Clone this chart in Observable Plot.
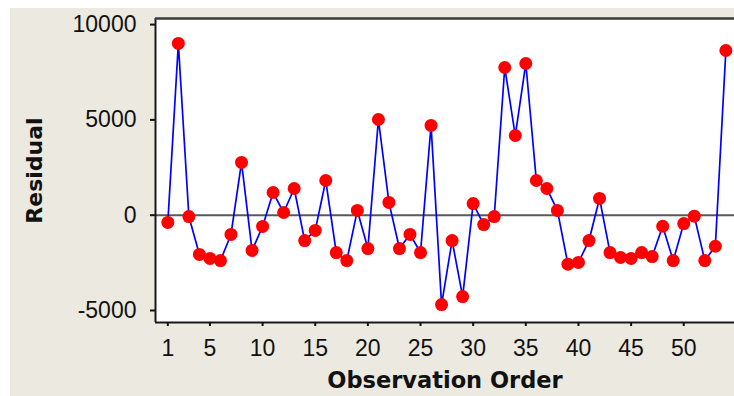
<!DOCTYPE html>
<html>
<head>
<meta charset="utf-8">
<script src="https://cdn.jsdelivr.net/npm/d3@7"></script>
<script src="https://cdn.jsdelivr.net/npm/@observablehq/plot@0.6"></script>
<style>
  html, body { margin: 0; padding: 0; background: #ffffff; }
  #wrap { position: absolute; left: 10px; top: 8px; width: 724px; height: 388px; background: #ECE9E0; overflow: hidden; }
  #wrap svg { display: block; background: transparent; }
</style>
</head>
<body>
<div id="wrap"></div>
<script>
// Observation order (1..54)
const observations = [1,2,3,4,5,6,7,8,9,10,11,12,13,14,15,16,17,18,19,20,21,22,23,24,25,26,27,28,29,30,31,32,33,34,35,36,37,38,39,40,41,42,43,44,45,46,47,48,49,50,51,52,53,54];
// Residuals
const residuals = [-380, 9010, -70, -2060, -2270, -2380, -1010, 2770, -1850, -590,
  1190, 140, 1400, -1330, -800, 1820, -1960, -2380, 250, -1750,
  5020, 670, -1750, -1010, -1960, 4710, -4690, -1330, -4270, 610,
  -490, -70, 7750, 4180, 7960, 1820, 1400, 250, -2570, -2480,
  -1330, 880, -1960, -2220, -2270, -1960, -2170, -580, -2380, -440,
  -50, -2380, -1630, 8640];
const xTicks = [1, 5, 10, 15, 20, 25, 30, 35, 40, 45, 50];
const yTicks = [-5000, 0, 5000, 10000];
const xDomain = [-0.17, 54.82];
const yDomain = [-5630, 10320];
const xLabel = "Observation Order";
const yLabel = "Residual";

const data = observations.map((o, i) => ({obs: o, res: residuals[i]}));

const chart = Plot.plot({
  width: 724,
  height: 388,
  marginLeft: 145,
  marginRight: 0,
  marginTop: 10,
  marginBottom: 74,
  style: {fontFamily: "'Liberation Sans', Arial, sans-serif", color: "#111", background: "transparent"},
  x: {domain: xDomain, axis: null},
  y: {domain: yDomain, axis: null},
  marks: [
    Plot.frame({fill: "#ffffff", stroke: "none"}),
    Plot.ruleY([0], {stroke: "#585858", strokeWidth: 2}),
    Plot.line(data, {x: "obs", y: "res", stroke: "#0000ff", strokeWidth: 1.7}),
    Plot.dot(data, {x: "obs", y: "res", r: 6.5, fill: "#ff0000", stroke: "none"}),
    Plot.ruleX([xDomain[0]], {stroke: "#1a1a1a", strokeWidth: 2}),
    Plot.ruleY([yDomain[0]], {stroke: "#1a1a1a", strokeWidth: 2}),
    Plot.ruleY([yDomain[1]], {stroke: "#3a3a3a", strokeWidth: 2.5}),
    Plot.axisX({ticks: xTicks, tickFormat: d => String(d), tickSize: 4, tickPadding: 13, fontSize: 23, label: null, strokeWidth: 2}),
    Plot.axisY({ticks: yTicks, tickFormat: d => String(d), tickSize: 5, tickPadding: 14, fontSize: 23, label: null, strokeWidth: 2}),
    Plot.text([xLabel], {text: d => d, frameAnchor: "bottom", lineAnchor: "bottom", dy: 65, fontSize: 22.5, fontWeight: "bold", fontFamily: "'DejaVu Sans', sans-serif", fill: "#111"}),
    Plot.text([yLabel], {text: d => d, frameAnchor: "left", textAnchor: "middle", lineAnchor: "middle", rotate: -90, dx: -121, fontSize: 22, fontWeight: "bold", fontFamily: "'DejaVu Sans', sans-serif", fill: "#111"})
  ]
});
document.getElementById("wrap").appendChild(chart);
</script>
</body>
</html>
